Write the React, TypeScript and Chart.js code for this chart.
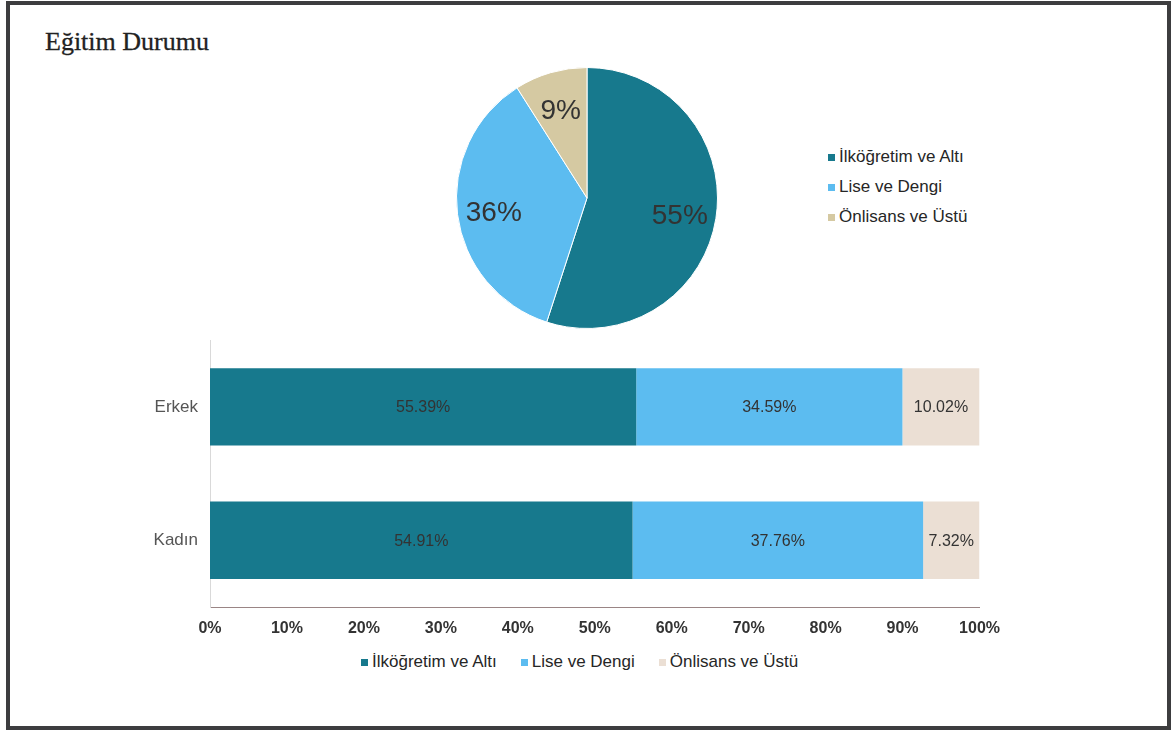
import React, { useEffect, useRef } from "react";
import { Chart, registerables } from "chart.js";

Chart.register(...registerables);

const TITLE = "Eğitim Durumu";
const SERIES_NAMES = ["İlköğretim ve Altı", "Lise ve Dengi", "Önlisans ve Üstü"];
const PIE_VALUES = [55, 36, 9];
const BAR_CATEGORIES = ["Erkek", "Kadın"];
const ILKOGRETIM = [55.39, 54.91];
const LISE = [34.59, 37.76];
const ONLISANS = [10.02, 7.32];
const X_TICKS = [0, 10, 20, 30, 40, 50, 60, 70, 80, 90, 100];

const PIE_COLORS = ["#17798d", "#5cbcf0", "#d5c9a2"];
const BAR_COLORS = ["#17798d", "#5cbcf0", "#ebdfd4"];
const FONT = "'Liberation Sans', Arial, sans-serif";

const pieLabelPlugin = {
  id: "pieLabels",
  afterDatasetsDraw(chart: any) {
    const ctx = chart.ctx;
    const meta = chart.getDatasetMeta(0);
    const data = chart.data.datasets[0].data as number[];
    ctx.save();
    ctx.font = `28px ${FONT}`;
    ctx.fillStyle = "#333333";
    ctx.textAlign = "center";
    ctx.textBaseline = "middle";
    meta.data.forEach((arc: any, i: number) => {
      const mid = (arc.startAngle + arc.endAngle) / 2;
      const r = arc.outerRadius * 0.72;
      ctx.fillText(`${data[i]}%`, arc.x + Math.cos(mid) * r, arc.y + Math.sin(mid) * r + 4);
    });
    ctx.restore();
  },
};

const barLabelPlugin = {
  id: "barLabels",
  afterDatasetsDraw(chart: any) {
    const ctx = chart.ctx;
    ctx.save();
    ctx.font = `16px ${FONT}`;
    ctx.fillStyle = "#333333";
    ctx.textAlign = "center";
    ctx.textBaseline = "middle";
    chart.data.datasets.forEach((ds: any, di: number) => {
      const meta = chart.getDatasetMeta(di);
      meta.data.forEach((bar: any, i: number) => {
        const v = ds.data[i] as number;
        ctx.fillText(`${v.toFixed(2)}%`, (bar.x + bar.base) / 2, bar.y + 1);
      });
    });
    ctx.restore();
  },
};

function PieChart() {
  const ref = useRef<HTMLCanvasElement>(null);
  useEffect(() => {
    const chart = new Chart(ref.current!, {
      type: "pie",
      data: {
        labels: SERIES_NAMES,
        datasets: [
          {
            data: PIE_VALUES,
            backgroundColor: PIE_COLORS,
            borderColor: "#ffffff",
            borderWidth: 1,
          },
        ],
      },
      options: {
        responsive: false,
        animation: false,
        layout: { padding: 0 },
        plugins: { legend: { display: false }, tooltip: { enabled: false } },
      },
      plugins: [pieLabelPlugin],
    });
    return () => chart.destroy();
  }, []);
  return (
    <canvas
      ref={ref}
      width={262}
      height={262}
      style={{ position: "absolute", left: 456, top: 67, width: 262, height: 262 }}
    />
  );
}

function BarChart() {
  const ref = useRef<HTMLCanvasElement>(null);
  useEffect(() => {
    const values = [ILKOGRETIM, LISE, ONLISANS];
    const chart = new Chart(ref.current!, {
      type: "bar",
      data: {
        labels: BAR_CATEGORIES,
        datasets: SERIES_NAMES.map((name, i) => ({
          label: name,
          data: values[i],
          backgroundColor: BAR_COLORS[i],
          borderWidth: 0,
          barPercentage: 0.58,
          categoryPercentage: 1,
        })),
      },
      options: {
        indexAxis: "y",
        responsive: false,
        animation: false,
        layout: { padding: { top: 10, right: 20, left: 0, bottom: 0 } },
        plugins: { legend: { display: false }, tooltip: { enabled: false } },
        scales: {
          x: {
            stacked: true,
            min: 0,
            max: 100,
            afterBuildTicks: (scale: any) => {
              scale.ticks = X_TICKS.map((v) => ({ value: v }));
            },
            afterFit: (scale: any) => {
              scale.height = 40;
            },
            ticks: {
              callback: (v: any) => `${v}%`,
              font: { family: FONT, size: 16, weight: "bold" },
              color: "#333333",
              padding: 12,
              maxRotation: 0,
            },
            grid: { display: false, drawTicks: false },
            border: { display: true, color: "#9a8585", width: 1 },
          },
          y: {
            stacked: true,
            afterFit: (scale: any) => {
              scale.width = 210;
            },
            ticks: {
              font: { family: FONT, size: 17 },
              color: "#555555",
              padding: 12,
            },
            grid: { display: false, drawTicks: false },
            border: { display: true, color: "#d9d9d9", width: 1 },
          },
        },
      },
      plugins: [barLabelPlugin],
    });
    return () => chart.destroy();
  }, []);
  return (
    <canvas
      ref={ref}
      width={1012}
      height={329}
      style={{ position: "absolute", left: 0, top: 318, width: 1012, height: 329 }}
    />
  );
}

export default function App() {
  return (
    <div
      style={{
        position: "fixed",
        left: 0,
        top: 0,
        width: 1172,
        height: 732,
        background: "#ffffff",
        overflow: "hidden",
      }}
    >
      <div
        style={{
          position: "absolute",
          left: 6,
          top: 1,
          width: 1165,
          height: 729,
          border: "4px solid #3d3d3f",
          boxSizing: "border-box",
        }}
      />
      <div
        style={{
          position: "absolute",
          left: 45,
          top: 27,
          fontFamily: "'Liberation Serif', 'Times New Roman', serif",
          fontSize: 26,
          color: "#222222",
          lineHeight: "30px",
          whiteSpace: "nowrap",
          WebkitTextStroke: "0.3px #222222",
        }}
      >
        {TITLE}
      </div>
      <PieChart />
      <div style={{ position: "absolute", left: 828, top: 142 }}>
        {SERIES_NAMES.map((name, i) => (
          <div
            key={name}
            style={{
              display: "flex",
              alignItems: "center",
              height: 30,
              fontFamily: FONT,
              fontSize: 17,
              color: "#262626",
              whiteSpace: "nowrap",
            }}
          >
            <span
              style={{
                display: "inline-block",
                width: 7,
                height: 7,
                background: PIE_COLORS[i],
                marginRight: 4,
              }}
            />
            {name}
          </div>
        ))}
      </div>
      <BarChart />
      <div
        style={{
          position: "absolute",
          left: 361,
          top: 651,
          display: "flex",
          alignItems: "center",
          height: 22,
          fontFamily: FONT,
          fontSize: 17,
          color: "#262626",
          whiteSpace: "nowrap",
        }}
      >
        {SERIES_NAMES.map((name, i) => (
          <div key={name} style={{ display: "flex", alignItems: "center", marginRight: 24 }}>
            <span
              style={{
                display: "inline-block",
                width: 7,
                height: 7,
                background: BAR_COLORS[i],
                marginRight: 4,
              }}
            />
            {name}
          </div>
        ))}
      </div>
    </div>
  );
}
